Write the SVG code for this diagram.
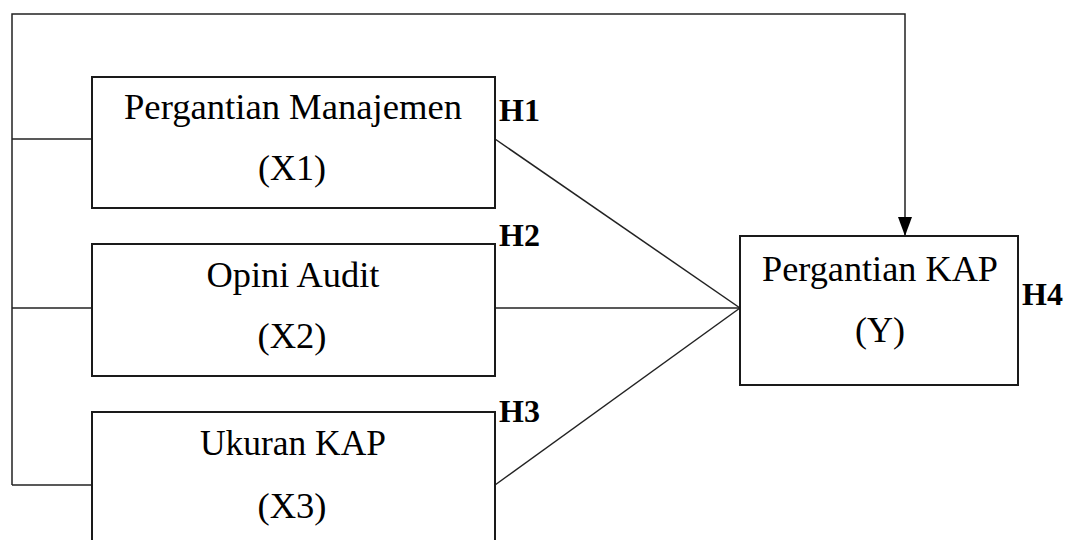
<svg xmlns="http://www.w3.org/2000/svg" width="1070" height="540" viewBox="0 0 1070 540">
<style>
.box{fill:#fff;stroke:#1a1a1a;stroke-width:2}
.ln{fill:none;stroke:#222;stroke-width:1.5}
.t{font-family:"Liberation Serif","Times New Roman",serif;font-size:35px;fill:#000;text-anchor:middle}
.h{font-family:"Liberation Serif","Times New Roman",serif;font-size:32px;font-weight:bold;fill:#000}
</style>
<defs>
<marker id="arr" viewBox="0 0 19 14" refX="19" refY="7" markerWidth="19" markerHeight="14" markerUnits="userSpaceOnUse" orient="auto">
<path d="M0,0 L19,7 L0,14 z" fill="#000"/>
</marker>
</defs>
<rect width="1070" height="540" fill="#fff"/>
<g id="connectors">
<polyline class="ln" points="12,485 12,14 905,14 905,236" marker-end="url(#arr)"/>
<line class="ln" x1="12" y1="139" x2="92" y2="139"/>
<line class="ln" x1="12" y1="308" x2="92" y2="308"/>
<line class="ln" x1="12" y1="485" x2="92" y2="485"/>
<line class="ln" x1="495" y1="139" x2="740" y2="308"/>
<line class="ln" x1="495" y1="308" x2="740" y2="308"/>
<line class="ln" x1="495" y1="485" x2="740" y2="308"/>
</g>
<g id="x1">
<rect class="box" x="92" y="77" width="403" height="131"/>
<text class="t" x="293" y="119" textLength="338" lengthAdjust="spacingAndGlyphs">Pergantian Manajemen</text>
<text class="t" x="292" y="180" textLength="68" lengthAdjust="spacingAndGlyphs">(X1)</text>
</g>
<g id="x2">
<rect class="box" x="92" y="244" width="403" height="132"/>
<text class="t" x="293" y="287" textLength="173" lengthAdjust="spacingAndGlyphs">Opini Audit</text>
<text class="t" x="292" y="348" textLength="69" lengthAdjust="spacingAndGlyphs">(X2)</text>
</g>
<g id="x3">
<rect class="box" x="92" y="412" width="403" height="140"/>
<text class="t" x="293" y="455" textLength="186" lengthAdjust="spacingAndGlyphs">Ukuran KAP</text>
<text class="t" x="292" y="518" textLength="69" lengthAdjust="spacingAndGlyphs">(X3)</text>
</g>
<g id="y">
<rect class="box" x="740" y="236" width="278" height="149"/>
<text class="t" x="880" y="281" textLength="236" lengthAdjust="spacingAndGlyphs">Pergantian KAP</text>
<text class="t" x="880" y="342" textLength="50" lengthAdjust="spacingAndGlyphs">(Y)</text>
</g>
<g id="labels">
<text class="h" x="499" y="121">H1</text>
<text class="h" x="499" y="246">H2</text>
<text class="h" x="499" y="422">H3</text>
<text class="h" x="1022" y="305">H4</text>
</g>
</svg>
